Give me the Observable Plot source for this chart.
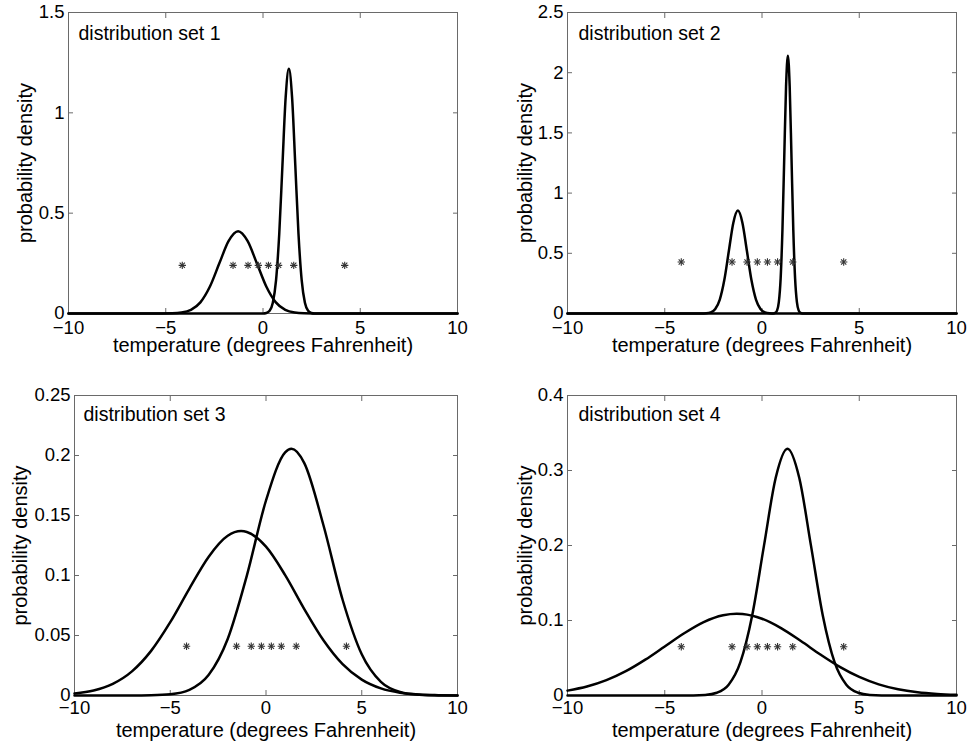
<!DOCTYPE html>
<html>
<head>
<meta charset="utf-8">
<script src="https://cdn.jsdelivr.net/npm/d3@7"></script>
<script src="https://cdn.jsdelivr.net/npm/@observablehq/plot@0.6"></script>
<style>
  html, body { margin: 0; padding: 0; background: #fff; }
  #root { position: relative; width: 969px; height: 744px; background: #fff; font-family: "Liberation Sans", Arial, Helvetica, sans-serif; }
  .panel { position: absolute; }
</style>
</head>
<body>
<div id="root"></div>
<script>
// ---------- data ----------
const panelTitles = ["distribution set 1", "distribution set 2", "distribution set 3", "distribution set 4"];
const xAxisLabel = "temperature (degrees Fahrenheit)";
const yAxisLabel = "probability density";

const xTicks = [-10, -5, 0, 5, 10];
const xTickLabels = ["\u221210", "\u22125", "0", "5", "10"];

const yTicks1 = [0, 0.5, 1, 1.5];
const yTickLabels1 = ["0", "0.5", "1", "1.5"];
const yTicks2 = [0, 0.5, 1, 1.5, 2, 2.5];
const yTickLabels2 = ["0", "0.5", "1", "1.5", "2", "2.5"];
const yTicks3 = [0, 0.05, 0.1, 0.15, 0.2, 0.25];
const yTickLabels3 = ["0", "0.05", "0.1", "0.15", "0.2", "0.25"];
const yTicks4 = [0, 0.1, 0.2, 0.3, 0.4];
const yTickLabels4 = ["0", "0.1", "0.2", "0.3", "0.4"];

// observed temperatures (asterisks) and the height they are drawn at in each panel
const observations = [-4.15, -1.54, -0.77, -0.24, 0.28, 0.80, 1.58, 4.2];
const starHeights = [0.24, 0.428, 0.041, 0.065];

// distribution set 1
const set1LeftX  = [-10, -5.16, -4.675, -4.19, -3.705, -3.22, -2.735, -2.25, -1.765, -1.28, -0.795, -0.31, 0.175, 0.66, 1.145, 1.63, 2.115, 2.6, 10];
const set1LeftY  = [0, 0.0001, 0.0009, 0.0046, 0.018, 0.0555, 0.1331, 0.2487, 0.3618, 0.41, 0.3618, 0.2487, 0.1331, 0.0555, 0.018, 0.0046, 0.0009, 0.0001, 0];
const set1RightX = [-10, 0.01, 0.175, 0.34, 0.505, 0.67, 0.835, 1.0, 1.165, 1.33, 1.495, 1.66, 1.825, 1.99, 2.155, 2.32, 2.485, 2.65, 10];
const set1RightY = [0, 0.0004, 0.0027, 0.0135, 0.0536, 0.165, 0.396, 0.74, 1.0767, 1.22, 1.0767, 0.74, 0.396, 0.165, 0.0536, 0.0135, 0.0027, 0.0004, 0];

// distribution set 2
const set2LeftX  = [-10, -3.1, -2.868, -2.635, -2.403, -2.17, -1.938, -1.705, -1.473, -1.24, -1.008, -0.775, -0.543, -0.31, -0.078, 0.155, 0.388, 0.62, 10];
const set2LeftY  = [0, 0.0003, 0.0019, 0.0095, 0.0375, 0.1157, 0.2776, 0.5186, 0.7545, 0.855, 0.7545, 0.5186, 0.2776, 0.1157, 0.0375, 0.0095, 0.0019, 0.0003, 0];
const set2RightX = [-10, 0.586, 0.679, 0.772, 0.865, 0.958, 1.051, 1.144, 1.237, 1.33, 1.423, 1.516, 1.609, 1.702, 1.795, 1.888, 1.981, 2.074, 10];
const set2RightY = [0, 0.0007, 0.0047, 0.0238, 0.0939, 0.2896, 0.695, 1.298, 1.8886, 2.14, 1.8886, 1.298, 0.695, 0.2896, 0.0939, 0.0238, 0.0047, 0.0007, 0];

// distribution set 3
const set3LeftX  = [-10, -9, -8, -7, -6, -5, -4, -3, -2, -1.3, -1, 0, 1, 2, 3, 4, 5, 6, 7, 8, 9, 10];
const set3LeftY  = [0.0016, 0.0041, 0.0097, 0.0201, 0.0372, 0.0611, 0.0891, 0.1155, 0.1331, 0.137, 0.1363, 0.124, 0.1003, 0.072, 0.046, 0.0261, 0.0132, 0.0059, 0.0023, 0.0008, 0.0003, 0.0001];
const set3RightX = [-10, -7, -6, -5, -4, -3, -2, -1, 0, 1, 1.33, 2, 3, 4, 5, 6, 7, 8, 9, 10];
const set3RightY = [0, 0, 0.0002, 0.001, 0.0047, 0.017, 0.0471, 0.0999, 0.1625, 0.2026, 0.2056, 0.1937, 0.1419, 0.0798, 0.0343, 0.0113, 0.0029, 0.0006, 0.0001, 0];

// distribution set 4
const set4LeftX  = [-10, -9, -8, -7, -6, -5, -4, -3, -2, -1.3, -1, 0, 1, 2, 3, 4, 5, 6, 7, 8, 9, 10];
const set4LeftY  = [0.0065, 0.0119, 0.0204, 0.0324, 0.0478, 0.0654, 0.083, 0.0979, 0.107, 0.109, 0.1086, 0.1023, 0.0895, 0.0726, 0.0547, 0.0382, 0.0248, 0.0149, 0.0083, 0.0043, 0.0021, 0.0009];
const set4RightX = [-10, -3.53, -2.925, -2.32, -1.715, -1.11, -0.505, 0.1, 0.705, 1.31, 1.915, 2.52, 3.125, 3.73, 4.335, 4.94, 5.545, 6.15, 10];
const set4RightY = [0, 0.0001, 0.0007, 0.0037, 0.0144, 0.0445, 0.1068, 0.1995, 0.2903, 0.329, 0.2903, 0.1995, 0.1068, 0.0445, 0.0144, 0.0037, 0.0007, 0.0001, 0];

// ---------- build ----------
const toRows = (xs, ys) => xs.map((x, i) => ({x, y: ys[i]}));

const panels = [
  {left: 0,   top: 0,   w: 485, h: 372, ml: 68, mr: 28, mt: 12, mb: 59, yMax: 1.5,  yTicks: yTicks1, yLabels: yTickLabels1,
   curves: [toRows(set1LeftX, set1LeftY), toRows(set1RightX, set1RightY)], titleDx: 10, titleDy: 27, yLabDx: -43, xLabDy: 38, xPad: 7},
  {left: 485, top: 0,   w: 484, h: 372, ml: 82, mr: 13, mt: 12, mb: 59, yMax: 2.5,  yTicks: yTicks2, yLabels: yTickLabels2,
   curves: [toRows(set2LeftX, set2LeftY), toRows(set2RightX, set2RightY)], titleDx: 11, titleDy: 27, yLabDx: -42, xLabDy: 38, xPad: 7},
  {left: 0,   top: 372, w: 485, h: 372, ml: 74, mr: 28, mt: 23, mb: 49, yMax: 0.25, yTicks: yTicks3, yLabels: yTickLabels3,
   curves: [toRows(set3LeftX, set3LeftY), toRows(set3RightX, set3RightY)], titleDx: 9, titleDy: 25, yLabDx: -54, xLabDy: 41, xPad: 5},
  {left: 485, top: 372, w: 484, h: 372, ml: 82, mr: 13, mt: 23, mb: 49, yMax: 0.4,  yTicks: yTicks4, yLabels: yTickLabels4,
   curves: [toRows(set4LeftX, set4LeftY), toRows(set4RightX, set4RightY)], titleDx: 11, titleDy: 25, yLabDx: -42, xLabDy: 41, xPad: 5}
];

const FONT = '"Liberation Sans", Arial, Helvetica, sans-serif';
const frameColor = "#6a6a6a";
const root = document.getElementById("root");

panels.forEach((p, i) => {
  const chart = Plot.plot({
    width: p.w,
    height: p.h,
    marginLeft: p.ml,
    marginRight: p.mr,
    marginTop: p.mt,
    marginBottom: p.mb,
    x: {domain: [-10, 10]},
    y: {domain: [0, p.yMax]},
    style: {fontFamily: FONT, fontSize: "19px", color: "#000", background: "transparent", overflow: "visible"},
    marks: [
      Plot.frame({stroke: frameColor, strokeWidth: 1}),
      // inward tick marks on all four sides
      Plot.axisX(xTicks, {anchor: "bottom", tickSize: -5, tickFormat: () => "", label: null, stroke: frameColor}),
      Plot.axisX(xTicks, {anchor: "top", tickSize: -5, tickFormat: () => "", label: null, stroke: frameColor}),
      Plot.axisY(p.yTicks, {anchor: "left", tickSize: -5, tickFormat: () => "", label: null, stroke: frameColor}),
      Plot.axisY(p.yTicks, {anchor: "right", tickSize: -5, tickFormat: () => "", label: null, stroke: frameColor}),
      // tick labels
      Plot.axisX(xTicks, {anchor: "bottom", tickSize: 0, tickPadding: p.xPad, label: null, fontSize: 18.5,
        tickFormat: (d) => xTickLabels[xTicks.indexOf(d)]}),
      Plot.axisY(p.yTicks, {anchor: "left", tickSize: 0, tickPadding: 4, label: null, fontSize: 18.5,
        tickFormat: (d) => p.yLabels[p.yTicks.indexOf(d)]}),
      // density curves
      ...p.curves.map((rows) => Plot.line(rows, {x: "x", y: "y", curve: "monotone-x", stroke: "#000", strokeWidth: 2.5})),
      // observations as asterisks (plus + times)
      Plot.dot(observations, {x: (d) => d, y: () => starHeights[i], symbol: "plus", r: 2.5, stroke: "#333", strokeWidth: 1.1}),
      Plot.dot(observations, {x: (d) => d, y: () => starHeights[i], symbol: "times", r: 2.5, stroke: "#333", strokeWidth: 1.1}),
      // panel title
      Plot.text([panelTitles[i]], {frameAnchor: "top-left", dx: p.titleDx, dy: p.titleDy, textAnchor: "start", lineAnchor: "bottom", fontSize: 19.5, fill: "#000"}),
      // axis labels
      Plot.text([yAxisLabel], {frameAnchor: "left", rotate: -90, dx: p.yLabDx, textAnchor: "middle", lineAnchor: "middle", fontSize: 20, fill: "#000"}),
      Plot.text([xAxisLabel], {frameAnchor: "bottom", dy: p.xLabDy, textAnchor: "middle", lineAnchor: "bottom", fontSize: 20, fill: "#000"})
    ]
  });
  const div = document.createElement("div");
  div.className = "panel";
  div.style.left = p.left + "px";
  div.style.top = p.top + "px";
  div.appendChild(chart);
  root.appendChild(div);
});
</script>
</body>
</html>
